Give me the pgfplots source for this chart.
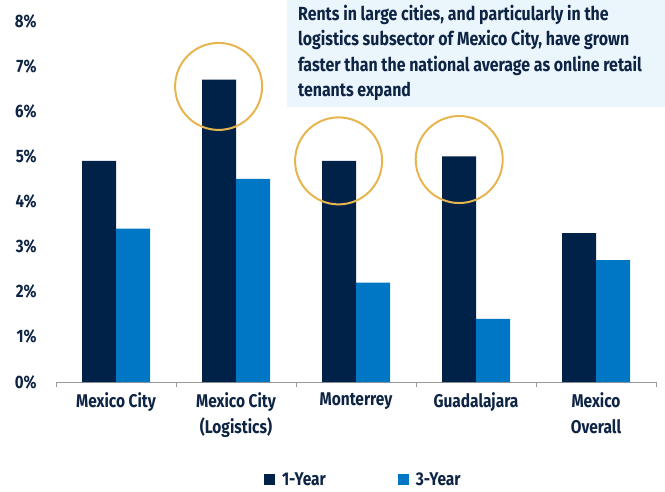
\documentclass[border=0pt]{standalone}
\usepackage{fontspec}
\setmainfont{Fira Sans}[FakeStretch=0.84]
\usepackage{pgfplots}
\pgfplotsset{compat=1.18}
\definecolor{navy}{HTML}{002148}
\definecolor{midblue}{HTML}{0077C4}
\definecolor{txt}{HTML}{0D2444}
\definecolor{gold}{HTML}{E6B54E}
\definecolor{boxbg}{HTML}{EAF5FC}
\definecolor{axgray}{HTML}{9A9A9A}
\begin{document}
\begin{tikzpicture}
\path[use as bounding box] (-56bp,-110bp) rectangle (609bp,382bp);
\fill[boxbg] (231bp,382bp) rectangle (609bp,275bp);
\begin{axis}[
  scale only axis,
  width=600bp, height=361bp,
  xmin=-0.5, xmax=4.5, ymin=0, ymax=8,
  axis x line=bottom, axis y line=left,
  x axis line style={-, draw=axgray, line width=1pt},
  y axis line style={draw=none},
  xtick={0,1,2,3,4},
  xticklabels={Mexico City,{Mexico City\\(Logistics)},Monterrey,Guadalajara,{Mexico\\Overall}},
  minor xtick={-0.5,0.5,1.5,2.5,3.5,4.5},
  major x tick style={draw=none},
  minor x tick style={draw=axgray, line width=1pt},
  minor tick length=5bp,
  tick align=outside,
  xticklabel style={align=center, font=\fontsize{18.5}{25.5}\bfseries\selectfont, text=txt, yshift=-3bp},
  ytick={0,1,2,3,4,5,6,7,8},
  yticklabels={0\%,1\%,2\%,3\%,4\%,5\%,6\%,7\%,8\%},
  ytick style={draw=none},
  yticklabel style={font=\fontsize{18}{20}\bfseries\selectfont, text=txt, inner sep=0pt, xshift=-15bp},
  legend style={at={(0.3467,-0.271)}, anchor=west, draw=none, fill=none,
    inner sep=0pt, outer sep=0pt,
    nodes={inner sep=0pt},
    font=\fontsize{18.5}{20}\bfseries\selectfont, text=txt, legend columns=2,
    /tikz/every odd column/.append style={column sep=7bp},
    /tikz/every even column/.append style={column sep=72bp}},
  clip=false,
]
\addplot[ybar, bar width=34bp, bar shift=-17bp, fill=navy, draw=none,
  legend image code/.code={\fill[navy] (0bp,-5.5bp) rectangle (11bp,5.5bp);}]
  coordinates {(0,4.9) (1,6.7) (2,4.9) (3,5.0) (4,3.3)};
\addlegendentry{1-Year}
\addplot[ybar, bar width=34bp, bar shift=17bp, fill=midblue, draw=none,
  legend image code/.code={\fill[midblue] (0bp,-5.5bp) rectangle (11bp,5.5bp);}]
  coordinates {(0,3.4) (1,4.5) (2,2.2) (3,1.4) (4,2.7)};
\addlegendentry{3-Year}
\addplot[only marks, mark=o, mark size=43.5bp, gold, line width=2bp, forget plot]
  coordinates {(0.855,6.55) (1.855,4.9) (2.86,4.93)};
\end{axis}
\node[anchor=north west, inner sep=0pt, align=left, text=txt,
  font=\fontsize{19}{25.5}\bfseries\selectfont] at (242bp,377bp)
  {Rents in large cities, and particularly in the\\ logistics subsector of Mexico City, have grown\\ faster than the national average as online retail\\ tenants expand};
\end{tikzpicture}
\end{document}
